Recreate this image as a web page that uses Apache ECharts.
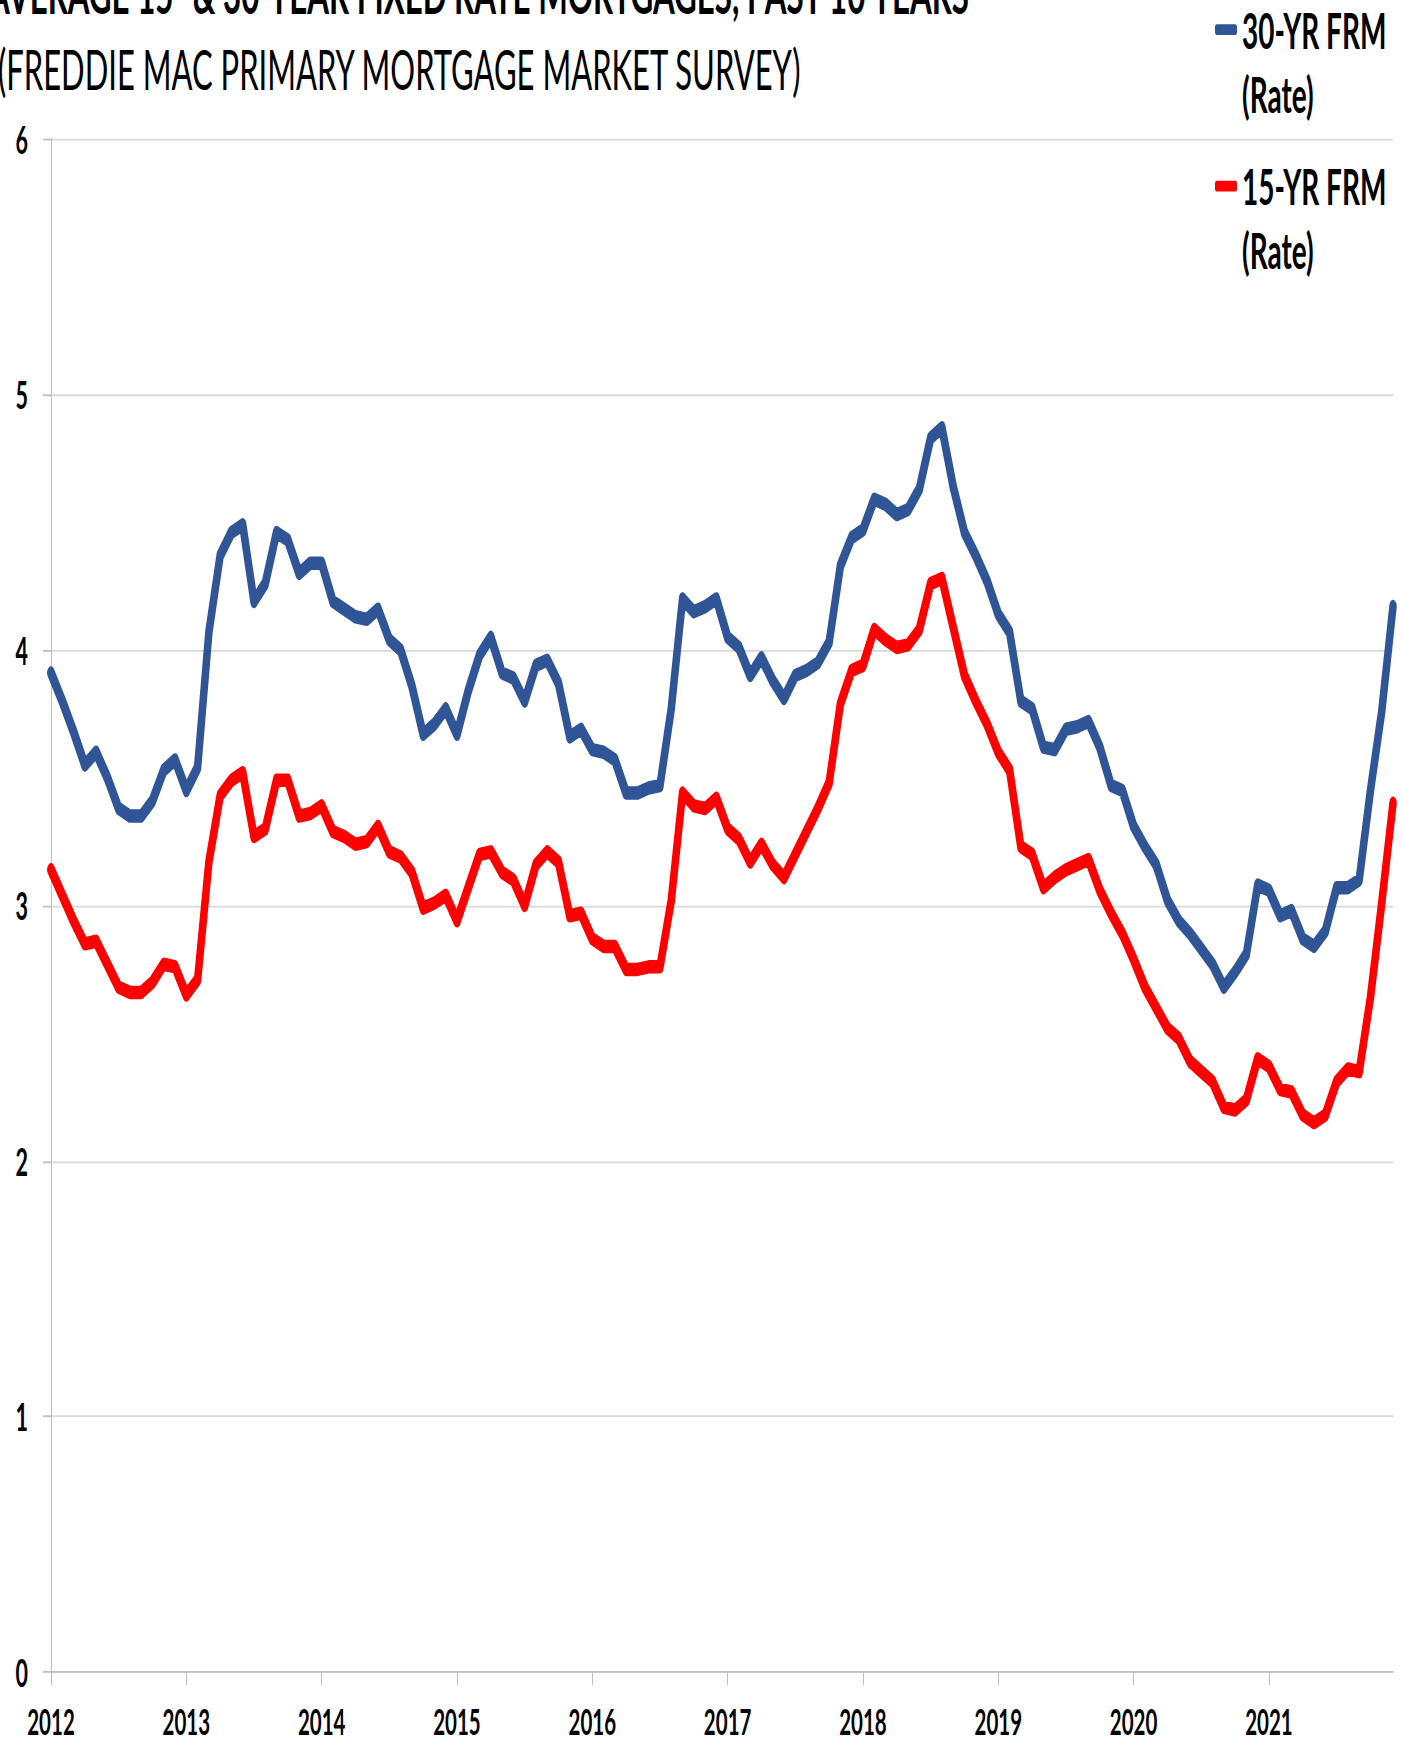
<!DOCTYPE html>
<html>
<head>
<meta charset="utf-8">
<script src="https://cdn.jsdelivr.net/npm/echarts@6/dist/echarts.min.js"></script>
<style>
  html, body { margin: 0; padding: 0; background: #fff; overflow: hidden; }
  #wrap { width: 1403px; height: 1743px; overflow: hidden; position: relative; }
  #chart { width: 1403px; height: 968px; transform: scaleY(1.80062); transform-origin: 0 0; }
</style>
</head>
<body>
<div id="wrap"><div id="chart"></div></div>
<script>
// Monthly categories, Apr 2012 - Mar 2022
const months = [
  '2012-04','2012-05','2012-06','2012-07','2012-08','2012-09','2012-10','2012-11','2012-12',
  '2013-01','2013-02','2013-03','2013-04','2013-05','2013-06','2013-07','2013-08','2013-09','2013-10','2013-11','2013-12',
  '2014-01','2014-02','2014-03','2014-04','2014-05','2014-06','2014-07','2014-08','2014-09','2014-10','2014-11','2014-12',
  '2015-01','2015-02','2015-03','2015-04','2015-05','2015-06','2015-07','2015-08','2015-09','2015-10','2015-11','2015-12',
  '2016-01','2016-02','2016-03','2016-04','2016-05','2016-06','2016-07','2016-08','2016-09','2016-10','2016-11','2016-12',
  '2017-01','2017-02','2017-03','2017-04','2017-05','2017-06','2017-07','2017-08','2017-09','2017-10','2017-11','2017-12',
  '2018-01','2018-02','2018-03','2018-04','2018-05','2018-06','2018-07','2018-08','2018-09','2018-10','2018-11','2018-12',
  '2019-01','2019-02','2019-03','2019-04','2019-05','2019-06','2019-07','2019-08','2019-09','2019-10','2019-11','2019-12',
  '2020-01','2020-02','2020-03','2020-04','2020-05','2020-06','2020-07','2020-08','2020-09','2020-10','2020-11','2020-12',
  '2021-01','2021-02','2021-03','2021-04','2021-05','2021-06','2021-07','2021-08','2021-09','2021-10','2021-11','2021-12',
  '2022-01','2022-02','2022-03'
];

// Tick labels shown every 12 months
const yearLabels = ['2012','2013','2014','2015','2016','2017','2018','2019','2020','2021'];

// 30-year fixed rate (%)
const rate30 = [
  3.91, 3.80, 3.68, 3.55, 3.60, 3.50, 3.38, 3.35, 3.35,
  3.41, 3.53, 3.57, 3.45, 3.54, 4.07, 4.37, 4.46, 4.49, 4.19, 4.26, 4.46,
  4.43, 4.30, 4.34, 4.34, 4.19, 4.16, 4.13, 4.12, 4.16, 4.04, 4.00, 3.86,
  3.67, 3.71, 3.77, 3.67, 3.84, 3.98, 4.05, 3.91, 3.89, 3.80, 3.94, 3.96,
  3.87, 3.66, 3.69, 3.61, 3.60, 3.57, 3.44, 3.44, 3.46, 3.47, 3.77, 4.20,
  4.15, 4.17, 4.20, 4.05, 4.01, 3.90, 3.97, 3.88, 3.81, 3.90, 3.92, 3.95,
  4.03, 4.33, 4.44, 4.47, 4.59, 4.57, 4.53, 4.55, 4.63, 4.83, 4.87, 4.64,
  4.46, 4.37, 4.27, 4.14, 4.07, 3.80, 3.77, 3.62, 3.61, 3.69, 3.70, 3.72,
  3.62, 3.47, 3.45, 3.31, 3.23, 3.16, 3.02, 2.94, 2.89, 2.83, 2.77, 2.68,
  2.74, 2.81, 3.08, 3.06, 2.96, 2.98, 2.87, 2.84, 2.90, 3.07, 3.07, 3.10,
  3.45, 3.76, 4.17
];

// 15-year fixed rate (%)
const rate15 = [
  3.14, 3.04, 2.94, 2.85, 2.86, 2.77, 2.68, 2.66, 2.66,
  2.70, 2.77, 2.76, 2.65, 2.71, 3.17, 3.43, 3.49, 3.52, 3.27, 3.30, 3.49,
  3.49, 3.35, 3.36, 3.39, 3.29, 3.27, 3.24, 3.25, 3.31, 3.21, 3.19, 3.13,
  2.99, 3.01, 3.04, 2.94, 3.07, 3.20, 3.21, 3.13, 3.10, 3.00, 3.16, 3.21,
  3.17, 2.96, 2.97, 2.87, 2.84, 2.84, 2.75, 2.75, 2.76, 2.76, 3.02, 3.44,
  3.39, 3.38, 3.42, 3.30, 3.26, 3.17, 3.24, 3.16, 3.11, 3.20, 3.29, 3.38,
  3.48, 3.79, 3.92, 3.94, 4.08, 4.04, 4.01, 4.02, 4.08, 4.26, 4.28, 4.09,
  3.90, 3.80, 3.71, 3.60, 3.53, 3.23, 3.20, 3.07, 3.11, 3.14, 3.16, 3.18,
  3.06, 2.97, 2.89, 2.79, 2.68, 2.60, 2.52, 2.48, 2.39, 2.35, 2.31, 2.21,
  2.20, 2.24, 2.40, 2.37, 2.28, 2.27, 2.18, 2.15, 2.18, 2.31, 2.36, 2.35,
  2.64, 3.01, 3.40
];

const seriesNames = ['30-YR FRM', '15-YR FRM'];
const seriesColors = ['#2f5597', '#ff0000'];

const FONT = 'Lato, "Open Sans", sans-serif';

const legendCommon = {
  orient: 'vertical',
  padding: 0,
  itemWidth: 22,
  itemHeight: 6,
  icon: 'roundRect',
  selectedMode: false,
  // blank first line keeps the name line level with the swatch
  formatter: name => ' \n' + name + '\n(Rate)',
  textStyle: {
    fontFamily: FONT, fontWeight: 'bold', fontSize: 28, color: '#000',
    lineHeight: 35.6
  }
};

const chart = echarts.init(document.getElementById('chart'), null, { renderer: 'svg', width: 1403, height: 968 });
chart.setOption({
  animation: false,
  backgroundColor: '#fff',
  title: [
    {
      text: 'AVERAGE 15- & 30-YEAR FIXED RATE MORTGAGES, PAST 10 YEARS',
      left: -12, top: -19.5, padding: 0,
      textStyle: { fontFamily: FONT, fontWeight: 'bold', fontSize: 31.3, color: '#000' }
    },
    {
      text: '(FREDDIE MAC PRIMARY MORTGAGE MARKET SURVEY)',
      left: -2, top: 22.5, padding: 0,
      textStyle: { fontFamily: FONT, fontWeight: 'normal', fontSize: 31, color: '#000' }
    }
  ],
  legend: [
    Object.assign({}, legendCommon, { data: [seriesNames[0]], left: 1215, top: -37 }),
    Object.assign({}, legendCommon, { data: [seriesNames[1]], left: 1215, top: 50 })
  ],
  grid: { left: 51, right: 10, top: 77.2, bottom: 39.4, containLabel: false },
  xAxis: {
    type: 'category',
    data: months,
    boundaryGap: false,
    axisLine: { lineStyle: { color: '#bfbfbf', width: 1 } },
    axisTick: { show: true, interval: 11, length: 7.2, lineStyle: { color: '#bfbfbf' } },
    axisLabel: {
      interval: 11, margin: 16.5,
      formatter: (v, i) => yearLabels[Math.floor(i / 12)],
      fontFamily: FONT, fontWeight: 'bold', fontSize: 20.5, color: '#000'
    },
    splitLine: { show: false }
  },
  yAxis: {
    type: 'value', min: 0, max: 6, interval: 1,
    axisLine: { show: true, lineStyle: { color: '#bfbfbf', width: 1 } },
    axisTick: { show: true, length: 8, lineStyle: { color: '#bfbfbf' } },
    axisLabel: { margin: 23, fontFamily: FONT, fontWeight: 'bold', fontSize: 21.5, color: '#000' },
    splitLine: { show: true, lineStyle: { color: '#d9d9d9', width: 1 } }
  },
  series: [
    {
      name: seriesNames[0], type: 'line', data: rate30, showSymbol: false,
      color: seriesColors[0],
      lineStyle: { width: 7.5, color: seriesColors[0], join: 'round', cap: 'round' }
    },
    {
      name: seriesNames[1], type: 'line', data: rate15, showSymbol: false,
      color: seriesColors[1],
      lineStyle: { width: 7.5, color: seriesColors[1], join: 'round', cap: 'round' }
    }
  ]
});
</script>
</body>
</html>
